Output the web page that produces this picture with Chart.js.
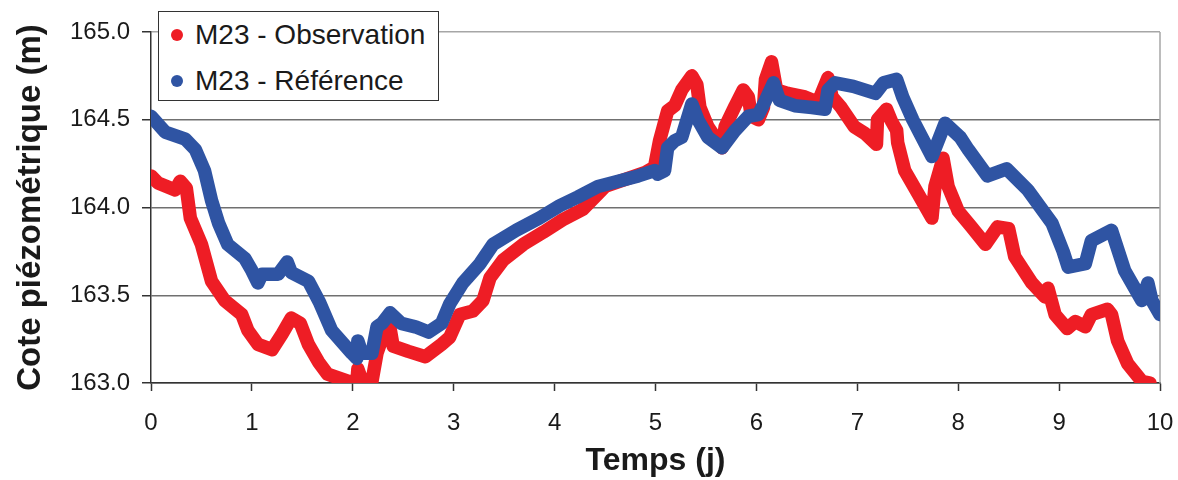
<!DOCTYPE html>
<html>
<head>
<meta charset="utf-8">
<script src="https://cdn.jsdelivr.net/npm/chart.js@4/dist/chart.umd.min.js"></script>
<style>
  html, body { margin: 0; padding: 0; background: #fff; }
  #wrap { position: relative; width: 1178px; height: 480px; }
  #legend {
    position: absolute; left: 158px; top: 11px; width: 281px; height: 90px;
    box-sizing: border-box; border: 1.5px solid #333; background: #fff;
    font: 28px "Liberation Sans", Arial, Helvetica, sans-serif; color: #1a1a1a;
  }
  #legend .row { position: absolute; left: 0; height: 32px; line-height: 32px; white-space: nowrap; }
  #legend .dot { position: absolute; left: 11.5px; top: 10px; width: 12px; height: 12px; border-radius: 50%; }
  #legend .lbl { position: absolute; left: 36px; top: 0; }
</style>
</head>
<body>
<div id="wrap">
  <canvas id="c" width="1178" height="480"></canvas>
  <div id="legend">
    <div class="row" style="top:7px"><span class="dot" style="background:#ee1d25"></span><span class="lbl">M23 - Observation</span></div>
    <div class="row" style="top:53px"><span class="dot" style="background:#2f54a3"></span><span class="lbl">M23 - Référence</span></div>
  </div>
</div>
<script>
// Time (days) and water level (m) for the observed series
const tObs = [0.00, 0.07, 0.24, 0.29, 0.35, 0.39, 0.50, 0.60, 0.73, 0.90, 0.96, 1.06, 1.20, 1.30, 1.39, 1.48,
  1.56, 1.66, 1.75, 1.95, 2.04, 2.05, 2.10, 2.19, 2.24, 2.30, 2.37, 2.40, 2.55, 2.72, 2.88, 2.96, 3.06, 3.19,
  3.29, 3.36, 3.49, 3.69, 3.89, 4.08, 4.28, 4.50, 4.70, 4.90, 4.99, 5.04, 5.12, 5.19, 5.26, 5.36, 5.41, 5.44,
  5.52, 5.66, 5.69, 5.79, 5.87, 5.92, 5.95, 6.02, 6.07, 6.09, 6.15, 6.20, 6.31, 6.48, 6.61, 6.66, 6.71, 6.75,
  6.84, 6.97, 7.08, 7.19, 7.20, 7.29, 7.34, 7.39, 7.40, 7.47, 7.60, 7.74, 7.77, 7.85, 7.90, 8.00, 8.13, 8.27,
  8.39, 8.50, 8.56, 8.73, 8.86, 8.89, 8.96, 9.08, 9.16, 9.26, 9.32, 9.48, 9.52, 9.58, 9.68, 9.82, 9.90];
const obs = [164.18, 164.14, 164.10, 164.15, 164.11, 163.94, 163.79, 163.58, 163.47, 163.39, 163.30, 163.22,
  163.19, 163.28, 163.37, 163.34, 163.22, 163.12, 163.05, 163.01, 163.00, 163.08, 163.00, 163.01, 163.17,
  163.27, 163.31, 163.21, 163.18, 163.15, 163.22, 163.26, 163.39, 163.41, 163.47, 163.60, 163.70, 163.79,
  163.86, 163.93, 163.99, 164.12, 164.16, 164.20, 164.23, 164.38, 164.55, 164.58, 164.67, 164.75, 164.70,
  164.57, 164.46, 164.34, 164.46, 164.58, 164.67, 164.63, 164.52, 164.50, 164.57, 164.73, 164.83, 164.67,
  164.65, 164.63, 164.60, 164.67, 164.74, 164.63, 164.57, 164.46, 164.42, 164.36, 164.50, 164.56, 164.49,
  164.44, 164.37, 164.21, 164.08, 163.94, 164.12, 164.28, 164.12, 163.98, 163.89, 163.79, 163.89, 163.88,
  163.72, 163.57, 163.49, 163.54, 163.39, 163.31, 163.35, 163.32, 163.39, 163.42, 163.39, 163.24, 163.11,
  163.01, 163.00];

// Time (days) and water level (m) for the reference simulation
const tRef = [0.00, 0.14, 0.34, 0.44, 0.53, 0.60, 0.67, 0.76, 0.93, 1.00, 1.06, 1.10, 1.26, 1.35, 1.39, 1.56,
  1.67, 1.79, 1.99, 2.04, 2.05, 2.09, 2.19, 2.24, 2.29, 2.37, 2.48, 2.62, 2.75, 2.88, 2.96, 3.09, 3.26, 3.39,
  3.62, 3.85, 4.05, 4.23, 4.43, 4.63, 4.83, 4.99, 5.02, 5.09, 5.12, 5.19, 5.26, 5.36, 5.42, 5.52, 5.66, 5.79,
  5.92, 6.02, 6.09, 6.17, 6.23, 6.38, 6.55, 6.68, 6.71, 6.78, 6.96, 7.18, 7.26, 7.39, 7.45, 7.55, 7.74, 7.87,
  8.02, 8.10, 8.29, 8.48, 8.69, 8.93, 9.04, 9.09, 9.26, 9.32, 9.52, 9.65, 9.82, 9.88, 9.92, 10.00];
const ref = [164.52, 164.43, 164.39, 164.33, 164.21, 164.04, 163.91, 163.79, 163.71, 163.64, 163.57, 163.62,
  163.62, 163.69, 163.63, 163.58, 163.46, 163.30, 163.17, 163.14, 163.24, 163.17, 163.17, 163.32, 163.34,
  163.40, 163.34, 163.32, 163.29, 163.34, 163.45, 163.57, 163.68, 163.79, 163.87, 163.94, 164.01, 164.06,
  164.12, 164.15, 164.18, 164.21, 164.19, 164.21, 164.34, 164.38, 164.40, 164.59, 164.50, 164.40, 164.34,
  164.44, 164.52, 164.53, 164.61, 164.71, 164.61, 164.58, 164.57, 164.56, 164.67, 164.71, 164.69, 164.65,
  164.71, 164.73, 164.63, 164.50, 164.29, 164.48, 164.40, 164.33, 164.18, 164.22, 164.10, 163.91, 163.75,
  163.66, 163.68, 163.81, 163.87, 163.64, 163.47, 163.57, 163.47, 163.39];

// Axis tick values
const xTicks = [0, 1, 2, 3, 4, 5, 6, 7, 8, 9, 10];
const yTicks = [163.0, 163.5, 164.0, 164.5, 165.0];

const FONT = '"Liberation Sans", Arial, Helvetica, sans-serif';
const RED = '#ee1d25';
const BLUE = '#2f54a3';

const toPoints = (ts, vs) => ts.map((t, i) => ({ x: t, y: vs[i] }));

// Right-hand frame edge of the plot area
const frameEdge = {
  id: 'frameEdge',
  beforeDatasetsDraw(chart) {
    const { ctx, chartArea: a } = chart;
    ctx.save();
    ctx.strokeStyle = '#a6a6a6';
    ctx.lineWidth = 1.5;
    ctx.beginPath();
    ctx.moveTo(a.right, a.top);
    ctx.lineTo(a.right, a.bottom);
    ctx.stroke();
    ctx.restore();
  }
};

new Chart(document.getElementById('c'), {
  type: 'line',
  data: {
    datasets: [
      { label: 'M23 - Référence', data: toPoints(tRef, ref), borderColor: BLUE, backgroundColor: BLUE, order: 0 },
      { label: 'M23 - Observation', data: toPoints(tObs, obs), borderColor: RED, backgroundColor: RED, order: 1 }
    ]
  },
  options: {
    responsive: false,
    animation: false,
    devicePixelRatio: 1,
    layout: { padding: { top: 32, right: 18, bottom: 0, left: 0 } },
    plugins: { legend: { display: false }, tooltip: { enabled: false } },
    elements: {
      point: { radius: 0 },
      line: { tension: 0, borderWidth: 13.5, borderCapStyle: 'round', borderJoinStyle: 'round', fill: false }
    },
    scales: {
      x: {
        type: 'linear', min: 0, max: 10,
        afterFit(s) { s.height = 97; s.paddingLeft = 0; s.paddingRight = 0; },
        afterBuildTicks(s) { s.ticks = xTicks.map(v => ({ value: v })); },
        ticks: { font: { family: FONT, size: 24 }, color: '#1a1a1a', padding: 18, maxRotation: 0, autoSkip: false,
                 callback: v => String(v) },
        grid: { drawOnChartArea: false, drawTicks: true, tickLength: 8, tickColor: '#333', tickWidth: 1.5 },
        border: { display: true, color: '#333', width: 1.5 },
        title: { display: true, text: 'Temps (j)', color: '#1a1a1a',
                 font: { family: FONT, size: 32, weight: 'bold' }, padding: { top: 0, bottom: 0 } }
      },
      y: {
        min: 163, max: 165,
        afterFit(s) { s.width = 151; },
        afterBuildTicks(s) { s.ticks = yTicks.map(v => ({ value: v })); },
        ticks: { font: { family: FONT, size: 24 }, color: '#1a1a1a', padding: 12,
                 callback: v => Number(v).toFixed(1) },
        grid: { color: c => (c.tick && c.tick.value === 165 ? '#a6a6a6' : '#707070'), lineWidth: 1.5,
                drawTicks: true, tickLength: 9, tickColor: '#333', tickWidth: 1.5 },
        border: { display: true, color: '#333', width: 1.5 },
        title: { display: true, text: 'Cote piézométrique (m)', color: '#1a1a1a',
                 font: { family: FONT, size: 33, weight: 'bold' }, padding: { top: 11, bottom: 0 } }
      }
    }
  },
  plugins: [frameEdge]
});
</script>
</body>
</html>
